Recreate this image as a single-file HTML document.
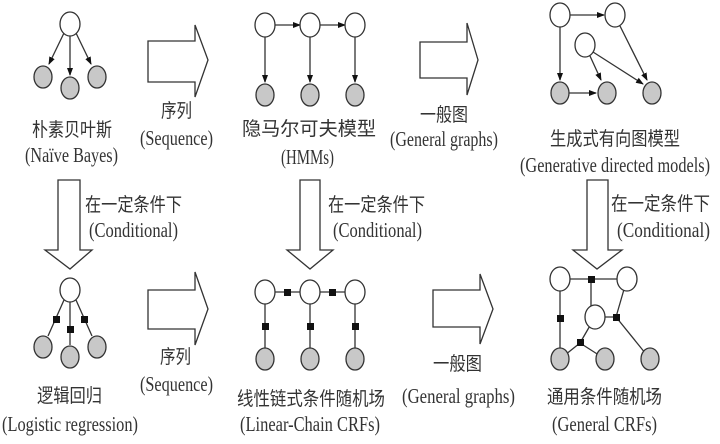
<!DOCTYPE html>
<html><head><meta charset="utf-8"><style>
body{margin:0;background:#fff}
svg{display:block}
text{font-family:"Liberation Serif","Noto Serif CJK SC",serif;font-size:21px;fill:#333;text-anchor:start}
.c{font-family:"Liberation Serif","Noto Sans CJK SC",sans-serif;font-size:19px}
</style></head><body>
<svg width="720" height="444" viewBox="0 0 720 444" xmlns="http://www.w3.org/2000/svg">
<defs><marker id="a" markerWidth="8" markerHeight="8" refX="7" refY="4" orient="auto" markerUnits="userSpaceOnUse"><path d="M0,1 L8,4 L0,7z" fill="#111"/></marker></defs>
<g stroke="#333" stroke-width="1.3" fill="none">
<line x1="64" y1="33" x2="49" y2="64" marker-end="url(#a)"/>
<line x1="70" y1="36" x2="70" y2="75" marker-end="url(#a)"/>
<line x1="76" y1="33" x2="91" y2="64" marker-end="url(#a)"/>
<line x1="275" y1="25" x2="300" y2="25" marker-end="url(#a)"/>
<line x1="320" y1="25" x2="345" y2="25" marker-end="url(#a)"/>
<line x1="265" y1="37" x2="265" y2="82" marker-end="url(#a)"/>
<line x1="310" y1="37" x2="310" y2="82" marker-end="url(#a)"/>
<line x1="355" y1="37" x2="355" y2="82" marker-end="url(#a)"/>
<line x1="569" y1="15" x2="604" y2="15" marker-end="url(#a)"/>
<line x1="560" y1="27" x2="560" y2="80" marker-end="url(#a)"/>
<line x1="569" y1="93" x2="596" y2="93" marker-end="url(#a)"/>
<line x1="590" y1="56" x2="601" y2="80" marker-end="url(#a)"/>
<line x1="593" y1="52" x2="643" y2="84" marker-end="url(#a)"/>
<line x1="620" y1="26" x2="647" y2="80" marker-end="url(#a)"/>
<line x1="64" y1="300" x2="48" y2="336"/>
<line x1="70" y1="302" x2="70" y2="345"/>
<line x1="76" y1="300" x2="92" y2="336"/>
<line x1="265" y1="292" x2="355" y2="292"/>
<line x1="265" y1="292" x2="265" y2="359"/>
<line x1="310" y1="292" x2="310" y2="359"/>
<line x1="355" y1="292" x2="355" y2="359"/>
<line x1="560" y1="279" x2="627" y2="279"/>
<line x1="591" y1="279" x2="591" y2="317"/>
<line x1="560" y1="279" x2="560" y2="359"/>
<line x1="595" y1="317" x2="616" y2="317"/>
<line x1="627" y1="279" x2="616" y2="317"/>
<line x1="616" y1="317" x2="650" y2="359"/>
<line x1="595" y1="317" x2="580" y2="343"/>
<line x1="580" y1="343" x2="560" y2="359"/>
<line x1="580" y1="343" x2="605" y2="359"/>
</g>
<g stroke="#333" stroke-width="1.3" fill="#fff">
<ellipse cx="70" cy="24" rx="10" ry="12"/>
<ellipse cx="265" cy="25" rx="10" ry="12"/><ellipse cx="310" cy="25" rx="10" ry="12"/><ellipse cx="355" cy="25" rx="10" ry="12"/>
<ellipse cx="560" cy="15" rx="10" ry="12"/><ellipse cx="615" cy="15" rx="10" ry="12"/><ellipse cx="585" cy="45" rx="10" ry="12"/>
<ellipse cx="70" cy="290" rx="10" ry="12"/>
<ellipse cx="265" cy="292" rx="10" ry="12"/><ellipse cx="310" cy="292" rx="10" ry="12"/><ellipse cx="355" cy="292" rx="10" ry="12"/>
<ellipse cx="560" cy="279" rx="10" ry="12"/><ellipse cx="627" cy="279" rx="10" ry="12"/><ellipse cx="595" cy="317" rx="10" ry="12"/>
</g>
<g stroke="#333" stroke-width="1.3" fill="#c8c8c8">
<ellipse cx="43" cy="77" rx="9" ry="11"/><ellipse cx="70" cy="88" rx="9" ry="11"/><ellipse cx="97" cy="77" rx="9" ry="11"/>
<ellipse cx="265" cy="95" rx="9" ry="11"/><ellipse cx="310" cy="95" rx="9" ry="11"/><ellipse cx="355" cy="95" rx="9" ry="11"/>
<ellipse cx="560" cy="93" rx="9" ry="11"/><ellipse cx="607" cy="93" rx="9" ry="11"/><ellipse cx="652" cy="93" rx="9" ry="11"/>
<ellipse cx="43" cy="347" rx="9" ry="11"/><ellipse cx="70" cy="357" rx="9" ry="11"/><ellipse cx="97" cy="347" rx="9" ry="11"/>
<ellipse cx="265" cy="359" rx="9" ry="11"/><ellipse cx="310" cy="359" rx="9" ry="11"/><ellipse cx="355" cy="359" rx="9" ry="11"/>
<ellipse cx="560" cy="359" rx="9" ry="11"/><ellipse cx="605" cy="359" rx="9" ry="11"/><ellipse cx="650" cy="359" rx="9" ry="11"/>
</g>
<g fill="#111">
<rect x="53" y="316" width="7" height="7"/><rect x="67" y="326" width="7" height="7"/><rect x="81" y="316" width="7" height="7"/>
<rect x="284" y="289" width="7" height="7"/><rect x="329" y="289" width="7" height="7"/>
<rect x="262" y="323" width="7" height="7"/><rect x="307" y="323" width="7" height="7"/><rect x="352" y="323" width="7" height="7"/>
<rect x="588" y="276" width="7" height="7"/><rect x="557" y="315" width="7" height="7"/><rect x="613" y="314" width="7" height="7"/><rect x="577" y="339" width="7" height="7"/>
</g>
<g stroke="#333" stroke-width="1.3" fill="#fff">
<path d="M148,41 H195 V25 L208,60 L195,97 V82 H148Z"/>
<path d="M420,42 H467 V23 L478,60 L467,95 V78 H420Z"/>
<path d="M148,290 H195 V272 L208,309 L195,345 V329 H148Z"/>
<path d="M433,290 H480 V274 L493,309 L480,344 V327 H433Z"/>
<path d="M58,180 V250 H45 L70,269 L92,250 H80 V180Z"/>
<path d="M300,180 V250 H287 L310,269 L333,250 H320 V180Z"/>
<path d="M587,180 V250 H573 L597,269 L622,250 H608 V180Z"/>
</g>
<text class="c" x="32" y="136" textLength="80" lengthAdjust="spacingAndGlyphs">朴素贝叶斯</text>
<text x="25" y="162" textLength="93" lengthAdjust="spacingAndGlyphs">(Naïve Bayes)</text>
<text class="c" x="161" y="117" textLength="31" lengthAdjust="spacingAndGlyphs">序列</text>
<text x="140" y="145" textLength="73" lengthAdjust="spacingAndGlyphs">(Sequence)</text>
<text class="c" x="242" y="135" textLength="134" lengthAdjust="spacingAndGlyphs">隐马尔可夫模型</text>
<text x="281" y="164" textLength="53" lengthAdjust="spacingAndGlyphs">(HMMs)</text>
<text class="c" x="420" y="121" textLength="48" lengthAdjust="spacingAndGlyphs">一般图</text>
<text x="390" y="146" textLength="108" lengthAdjust="spacingAndGlyphs">(General graphs)</text>
<text class="c" x="550" y="145" textLength="130" lengthAdjust="spacingAndGlyphs">生成式有向图模型</text>
<text x="520" y="172" textLength="190" lengthAdjust="spacingAndGlyphs">(Generative directed models)</text>
<text class="c" x="85" y="211" textLength="97" lengthAdjust="spacingAndGlyphs">在一定条件下</text>
<text x="89" y="237" textLength="89" lengthAdjust="spacingAndGlyphs">(Conditional)</text>
<text class="c" x="328" y="211" textLength="97" lengthAdjust="spacingAndGlyphs">在一定条件下</text>
<text x="333" y="237" textLength="89" lengthAdjust="spacingAndGlyphs">(Conditional)</text>
<text class="c" x="611" y="210" textLength="99" lengthAdjust="spacingAndGlyphs">在一定条件下</text>
<text x="617" y="237" textLength="93" lengthAdjust="spacingAndGlyphs">(Conditional)</text>
<text class="c" x="37" y="402" textLength="65" lengthAdjust="spacingAndGlyphs">逻辑回归</text>
<text x="2" y="431" textLength="136" lengthAdjust="spacingAndGlyphs">(Logistic regression)</text>
<text class="c" x="160" y="363" textLength="31" lengthAdjust="spacingAndGlyphs">序列</text>
<text x="140" y="391" textLength="73" lengthAdjust="spacingAndGlyphs">(Sequence)</text>
<text class="c" x="237" y="405" textLength="148" lengthAdjust="spacingAndGlyphs">线性链式条件随机场</text>
<text x="240" y="431" textLength="140" lengthAdjust="spacingAndGlyphs">(Linear-Chain CRFs)</text>
<text class="c" x="433" y="370" textLength="49" lengthAdjust="spacingAndGlyphs">一般图</text>
<text x="402" y="403" textLength="113" lengthAdjust="spacingAndGlyphs">(General graphs)</text>
<text class="c" x="547" y="403" textLength="115" lengthAdjust="spacingAndGlyphs">通用条件随机场</text>
<text x="552" y="431" textLength="105" lengthAdjust="spacingAndGlyphs">(General CRFs)</text>
</svg>
</body></html>
